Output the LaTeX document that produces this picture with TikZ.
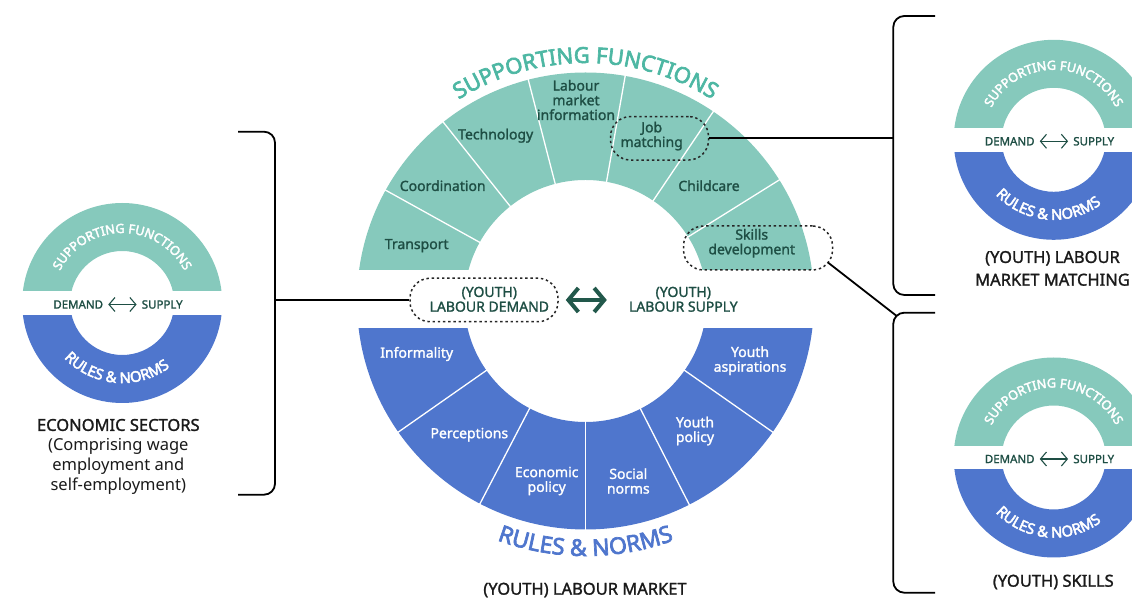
\documentclass[tikz,border=0pt]{standalone}
\usepackage{fontspec}
\setmainfont{Noto Sans}
\IfFontExistsTF{Noto Sans SemiBold}{\newfontfamily\semib{Noto Sans SemiBold}}{\newfontfamily\semib{Noto Sans}[FakeBold=1.5]}
\IfFontExistsTF{Noto Sans Bold}{\newfontfamily\boldf{Noto Sans Bold}}{\newfontfamily\boldf{Noto Sans}[FakeBold=3]}
\usetikzlibrary{positioning,decorations.text,arrows.meta}
\definecolor{sfcol}{RGB}{134,201,188}
\definecolor{sftitle}{RGB}{77,183,163}
\definecolor{rncol}{RGB}{79,118,205}
\definecolor{dkgreen}{RGB}{30,78,68}
\definecolor{arrgreen}{RGB}{34,88,75}
\definecolor{captxt}{RGB}{26,26,26}

\begin{document}
\begin{tikzpicture}[x=1pt,y=1pt,
	seglabel/.style={font=\semib\fontsize{14}{14.7}\selectfont,text=dkgreen,align=center,inner sep=0pt},
	rnlabel/.style={seglabel,text=white},
	dashbox/.style={draw=black!85,line width=1.5pt,dash pattern=on 2.4pt off 2.8pt,rounded corners=20pt,minimum height=43.5pt},
	divider/.style={white,line width=1.3pt},
	smalltxt/.style={font=\semib\fontsize{11.5}{12}\selectfont,text=dkgreen,inner sep=1pt},
	thinarrow/.style={dkgreen,line width=1.1pt,>={Straight Barb[length=6pt,width=14pt]},<->,shorten <=4pt,shorten >=4pt},
	caption/.style={font=\semib\fontsize{16.5}{20}\selectfont,text=captxt,align=center,inner sep=0pt},
	bracket/.style={line width=1.8pt,rounded corners=11pt},
	link/.style={line width=1.8pt}]

	\useasboundingbox (0,0) rectangle (1132,599);
	\clip (0,0) rectangle (1132,599);

	% (youth) labour market
	\coordinate (c) at (585.5,298);
	\begin{scope}
		\clip (340,329) rectangle (830,560);
		\fill[sfcol,even odd rule] (c) circle[radius=228.5] (c) circle[radius=121];
		\foreach \a in {32,56,80,104.5,128.5,151}
			\draw[divider] ([shift={(\a:119)}]c) -- ([shift={(\a:231)}]c);
	\end{scope}
	\begin{scope}
		\clip (340,270) rectangle (830,50);
		\fill[rncol,even odd rule] (c) circle[radius=228.5] (c) circle[radius=121];
		\foreach \a in {215,242.5,270,297,325}
			\draw[divider] ([shift={(\a:119)}]c) -- ([shift={(\a:231)}]c);
	\end{scope}

	\path[decorate,decoration={text along path,text align=center,text color=sftitle,
		text={|\boldf\fontsize{22}{22}\selectfont|SUPPORTING FUNCTIONS}}]
		([shift={(150:238)}]c) arc[start angle=150,end angle=30,radius=238];
	\path[decorate,decoration={text along path,text align=center,text color=rncol,
		text={|\boldf\fontsize{23}{23}\selectfont|RULES {\&} NORMS}}]
		([shift={(230:255)}]c) arc[start angle=230,end angle=310,radius=255];

	\node[seglabel]		(transport)		at (416.7,353.3)	{Transport};
	\node[seglabel]		(coord)			at (442.7,413.3)	{Coordination};
	\node[seglabel]		(tech)			at (495.7,463.3)	{Technology};
	\node[seglabel]		(lmi)			at (576,499)		{Labour\\market\\information};
	\node[seglabel]		(jobm)			at (651.7,463)		{Job\\matching};
	\node[seglabel]		(childcare)		at (709,413.3)		{Childcare};
	\node[seglabel]		(skills)		at (751.7,355.7)	{Skills\\development};

	\node[rnlabel]		(informality)	at (416.7,245)		{Informality};
	\node[rnlabel]		(perceptions)	at (469.3,164.3)	{Perceptions};
	\node[rnlabel]		(econ)			at (546.7,118)		{Economic\\policy};
	\node[rnlabel]		(social)		at (628.3,118)		{Social\\norms};
	\node[rnlabel]		(ypolicy)		at (695,168)		{Youth\\policy};
	\node[rnlabel]		(yasp)			at (750,238.3)		{Youth\\aspirations};

	\node[seglabel]		(demand)		at (489.3,299.7)	{(YOUTH)\\LABOUR DEMAND};
	\node[seglabel]		(supply)		at (683.3,299.7)	{(YOUTH)\\LABOUR SUPPLY};

	\node[dashbox,minimum width=98pt]						(jobbox)	at (659.5,460.7)	{};
	\node[dashbox,minimum width=149pt,minimum height=44pt]	(skillbox)	at (758,351)		{};
	\node[dashbox,minimum width=148pt]						(dembox)	at (484,299)		{};

	\draw[arrgreen,line width=4pt,>={Straight Barb[length=10pt,width=24pt]},<->,shorten <=7pt,shorten >=22pt]
		(dembox.east) -- (dembox.east -| supply.west);

	\node[caption]		(lmcap)			at (585,9)			{(YOUTH) LABOUR MARKET};

	% small markets
	\foreach \cx/\cy/\id in {122.2/296/ec,1053.7/459.2/mm,1053.7/141.5/sk}{
		\coordinate (d\id) at (\cx,\cy);
		\begin{scope}
			\clip (\cx-105,\cy+12.3) rectangle (\cx+105,\cy+105);
			\fill[sfcol,even odd rule] (d\id) circle[radius=100] (d\id) circle[radius=52];
		\end{scope}
		\begin{scope}
			\clip (\cx-105,\cy-12.3) rectangle (\cx+105,\cy-105);
			\fill[rncol,even odd rule] (d\id) circle[radius=100] (d\id) circle[radius=52];
		\end{scope}
		\path[decorate,decoration={text along path,text align=center,text color=white,
			text={|\boldf\fontsize{12.6}{12.6}\selectfont|SUPPORTING FUNCTIONS}}]
			([shift={(172:70)}]d\id) arc[start angle=172,end angle=8,radius=70];
		\path[decorate,decoration={text along path,text align=center,text color=white,
			text={|\boldf\fontsize{14.8}{14.8}\selectfont|RULES {\&} NORMS}}]
			([shift={(200:80)}]d\id) arc[start angle=200,end angle=330,radius=80];
		\node[smalltxt]	(dem\id)	at (\cx-44,\cy-1.5)	{DEMAND};
		\node[smalltxt]	(sup\id)	at (\cx+40,\cy-1.5)	{SUPPLY};
		\draw[thinarrow] (dem\id) -- (sup\id);
	}

	\node[caption]		(eccap)			at (118.3,174)		{ECONOMIC SECTORS};
	\node[caption,font=\fontsize{16.5}{20}\selectfont,below=7pt of eccap]	(ecsub)	{(Comprising wage\\employment and\\self-employment)};
	\node[caption,font=\semib\fontsize{16.5}{22.7}\selectfont]	(mmcap)	at (1052.5,330.6)	{(YOUTH) LABOUR\\MARKET MATCHING};
	\node[caption]		(skcap)			at (1053.3,17)		{(YOUTH) SKILLS};

	% brackets and links
	\draw[bracket] (238,467.3) -- (275,467.3) -- (275,104.3) -- (238,104.3);
	\coordinate (lbk) at (275,299);
	\draw[link] (dembox.west) -- (lbk);

	\draw[bracket] (935,583) -- (893.3,583) -- (893.3,304) -- (935,304);
	\coordinate (mbk) at (893.3,460.7);
	\draw[link] (jobbox.east) -- (mbk);

	\draw[bracket] (935,286.3) -- (893.3,286.3) -- (893.3,6.3) -- (935,6.3);
	\coordinate (sbk) at (896.2,283.4);
	\coordinate (skl) at ([xshift=-5pt,yshift=8pt]skillbox.south east);
	\draw[link] (skl) -- (sbk);
\end{tikzpicture}
\end{document}
